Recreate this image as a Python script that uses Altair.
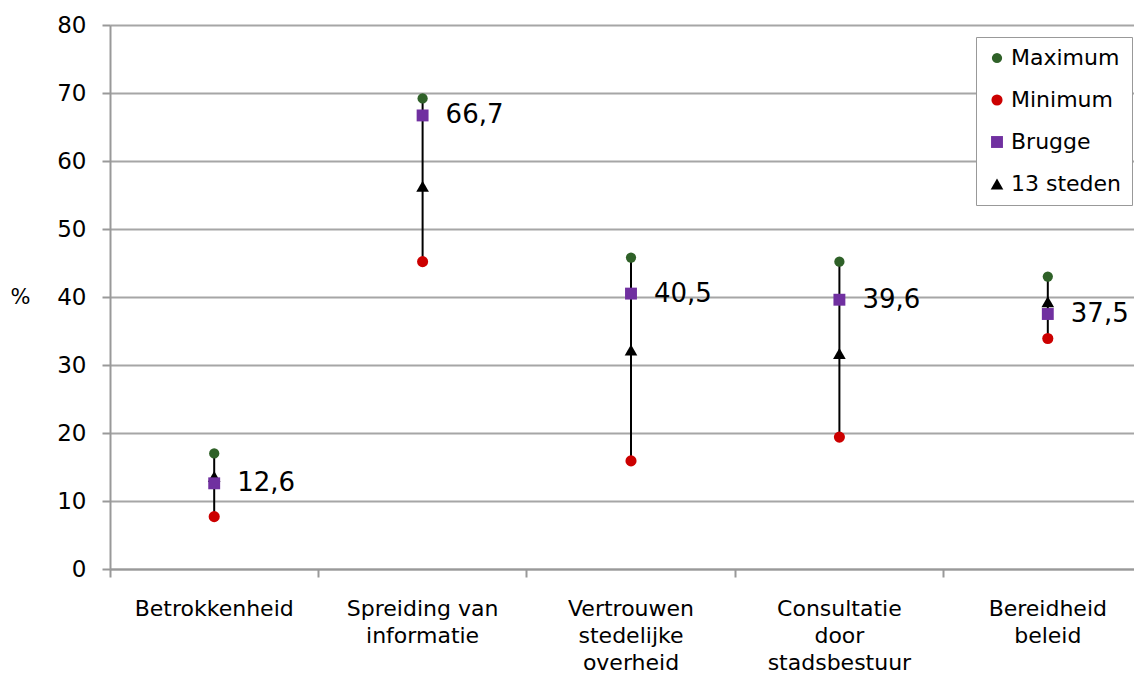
import altair as alt
import pandas as pd

categories = ["Betrokkenheid", "Spreiding van|informatie", "Vertrouwen|stedelijke|overheid",
              "Consultatie|door|stadsbestuur", "Bereidheid|beleid"]
maximum = [17.0, 69.2, 45.8, 45.2, 43.0]
minimum = [7.7, 45.2, 15.9, 19.4, 33.9]
brugge = [12.6, 66.7, 40.5, 39.6, 37.5]
steden13 = [13.6, 56.3, 32.2, 31.7, 39.3]

series = ["Maximum", "Minimum", "Brugge", "13 steden"]
colors = ["#2f6128", "#cc0000", "#7030a0", "#000000"]
shapes = ["circle", "circle", "square", "triangle-up"]
sizes = [105, 160, 200, 100]

FONT = "DejaVu Sans"

wide = pd.DataFrame({"cat": categories, "max": maximum, "min": minimum,
                     "brugge": brugge,
                     "label": [f"{v:.1f}".replace(".", ",") for v in brugge]})

rows = []
for c, mx, mn, b, s in zip(categories, maximum, minimum, brugge, steden13):
    rows.append({"cat": c, "serie": "13 steden", "v": s, "order": 0})
    rows.append({"cat": c, "serie": "Maximum", "v": mx, "order": 1})
    rows.append({"cat": c, "serie": "Minimum", "v": mn, "order": 2})
    rows.append({"cat": c, "serie": "Brugge", "v": b, "order": 3})
long = pd.DataFrame(rows)

x_enc = alt.X("cat:N", sort=categories,
              scale=alt.Scale(paddingInner=0, paddingOuter=0, range=[0, 1042]),
              axis=alt.Axis(title=None, bandPosition=0,
                            labelExpr="split(datum.label, '|')",
                            labelAlign="center", labelBaseline="top",
                            labelPadding=21, labelLineHeight=27,
                            labelFontSize=22, labelFont=FONT, labelColor="#000",
                            labelAngle=0, labelOverlap=False, labelBound=False,
                            labelFlush=False,
                            tickSize=8, tickColor="#999", tickWidth=2,
                            domainColor="#999", domainWidth=2, grid=False))

y_enc_scale = alt.Scale(domain=[0, 80], nice=False, zero=True)

rule = alt.Chart(wide).mark_rule(color="black", strokeWidth=2).encode(
    x=x_enc,
    y=alt.Y("min:Q", scale=y_enc_scale,
            axis=alt.Axis(title="%", titleAngle=0, titleX=-90, titleY=272,
                          titleAlign="center", titleBaseline="middle",
                          titleFontSize=21, titleFont=FONT, titleFontWeight="normal",
                          titleColor="#000",
                          values=list(range(0, 81, 10)), labelFontSize=23,
                          labelFont=FONT, labelColor="#000", labelPadding=16,
                          tickSize=8, tickColor="#999", tickWidth=2,
                          domainColor="#999", domainWidth=2,
                          gridColor="#a6a6a6", gridWidth=2)),
    y2="max:Q",
)

points = alt.Chart(long).mark_point(filled=True, opacity=1).encode(
    x=x_enc,
    y=alt.Y("v:Q", scale=y_enc_scale),
    color=alt.Color("serie:N", scale=alt.Scale(domain=series, range=colors),
                    legend=alt.Legend(title=None, orient="none", legendX=866, legendY=12,
                                      labelFontSize=22, labelFont=FONT, labelColor="#000",
                                      strokeColor="#999", fillColor="white", padding=10,
                                      rowPadding=20, labelOffset=3, symbolStrokeWidth=0)),
    shape=alt.Shape("serie:N", scale=alt.Scale(domain=series, range=shapes)),
    size=alt.Size("serie:N", scale=alt.Scale(domain=series, range=sizes)),
    order=alt.Order("order:Q"),
)

labels = alt.Chart(wide).mark_text(align="left", baseline="middle", dx=23,
                                   fontSize=26, font=FONT, color="#000").encode(
    x=x_enc,
    y=alt.Y("brugge:Q", scale=y_enc_scale),
    text="label:N",
)

chart = alt.layer(rule, points, labels).properties(
    width=1024, height=544,
    autosize=alt.AutoSizeParams(type="none"),
    padding={"left": 102, "top": 17, "right": 0, "bottom": 105},
).configure_view(stroke=None).configure(background="white")

chart.save("out.html", embed_options={"renderer": "svg", "actions": False})
